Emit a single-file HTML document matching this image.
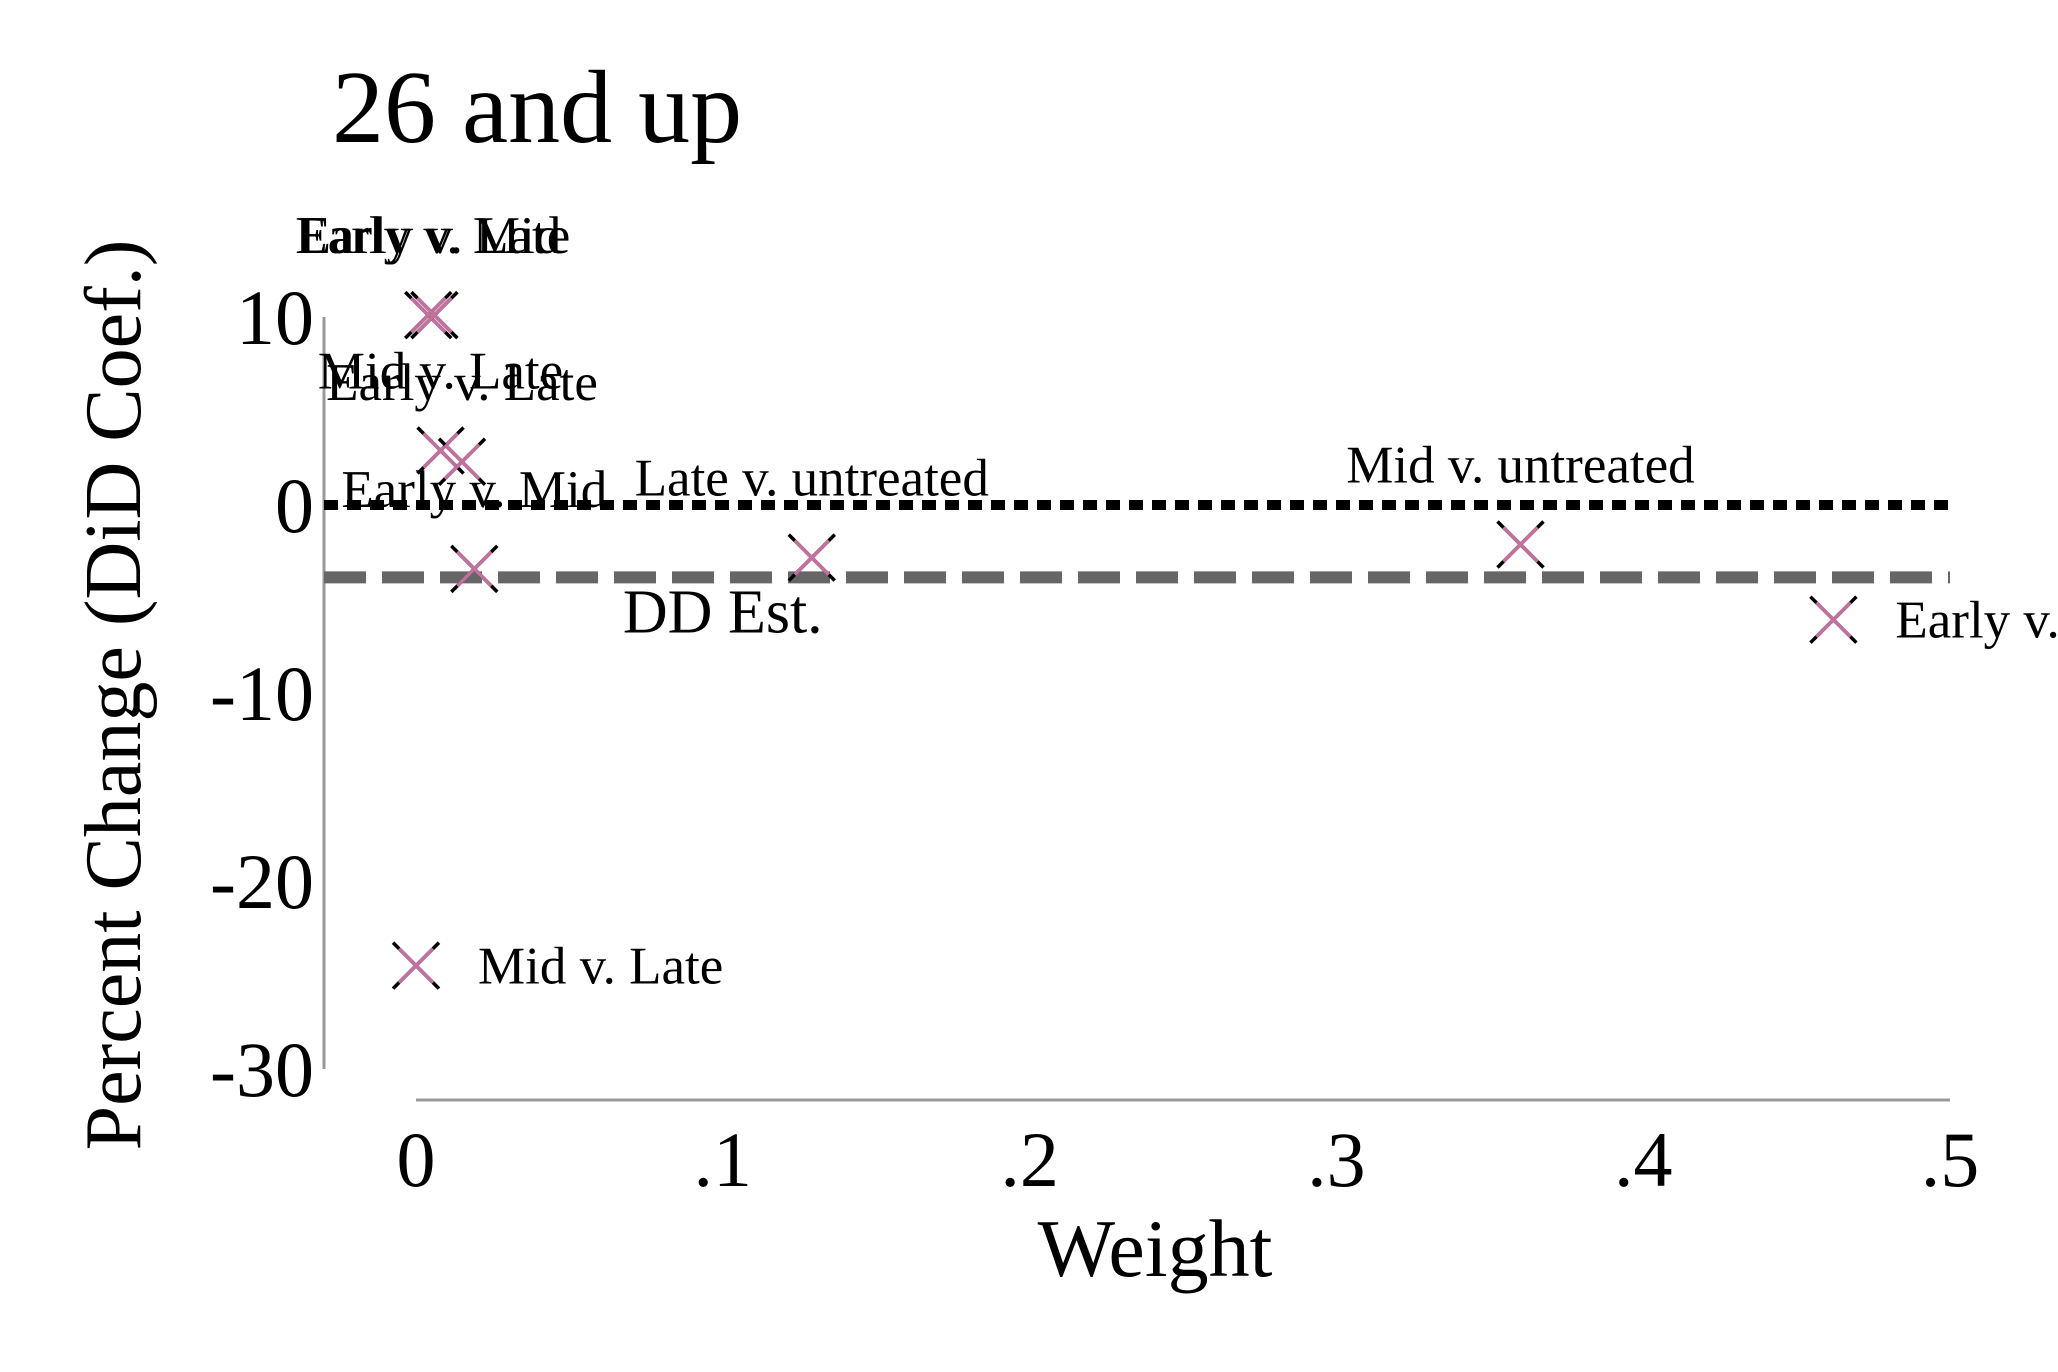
<!DOCTYPE html>
<html><head><meta charset="utf-8">
<style>
html,body{margin:0;padding:0;background:#fff;}
svg{display:block;font-family:"Liberation Serif","DejaVu Serif",serif;}
</style></head>
<body>
<svg id="chart" width="2058" height="1372" viewBox="0 0 2058 1372" xmlns="http://www.w3.org/2000/svg">
<rect width="2058" height="1372" fill="#fff"/>
<text x="332" y="142" font-size="104" fill="#000">26 and up</text>
<g id="axes"></g>
<g id="lines"></g>
<g id="marks"></g>
<text x="1155" y="1276" font-size="82" text-anchor="middle">Weight</text>
<text transform="translate(140,695) rotate(-90)" font-size="80" text-anchor="middle">Percent Change (DiD Coef.)</text>
</svg>
<script>
const labels = ["Early v. Mid","Early v. Late","Mid v. Late","Early v. Late","Early v. Mid","Late v. untreated","Mid v. untreated","Early v. untreated","Mid v. Late"];
const weights = [0.004,0.006,0.008,0.015,0.019,0.129,0.360,0.462,0.000];
const coefs = [10.1,10.1,2.9,2.3,-3.4,-2.8,-2.1,-6.1,-24.5];
const labelPos = ["above","above","above","above","above","above","above","right","right"];
const xTicks = [0,0.1,0.2,0.3,0.4,0.5];
const xTickLabels = ["0",".1",".2",".3",".4",".5"];
const yTicks = [10,0,-10,-20,-30];
const yTickLabels = ["10","0","-10","-20","-30"];
const zeroLine = 0;
const ddEst = -3.85;

const NS="http://www.w3.org/2000/svg";
function X(v){return 416 + v*3068;}
function Y(v){return 505 - v*18.8;}
function mk(tag,attrs,parent){const e=document.createElementNS(NS,tag);for(const k in attrs)e.setAttribute(k,attrs[k]);parent.appendChild(e);return e;}
const axes=document.getElementById('axes'),lines=document.getElementById('lines'),marks=document.getElementById('marks');

let yl=mk('line',{x1:324,x2:324,y1:Y(10),y2:Y(-30),stroke:'#999','stroke-width':3},axes);


let xl=mk('line',{x1:X(0),x2:X(0.5),y1:1100,y2:1100,stroke:'#999','stroke-width':3},axes);


yTicks.forEach((t,i)=>{
  const e=mk('text',{x:314,y:Y(t)+27,'font-size':78,'text-anchor':'end'},axes);
  e.textContent=yTickLabels[i];
  
  
});
xTicks.forEach((t,i)=>{
  const e=mk('text',{x:X(t),y:1186,'font-size':78,'text-anchor':'middle'},axes);
  e.textContent=xTickLabels[i];
  
  
});
let zl=mk('line',{x1:324,x2:X(0.5),y1:Y(zeroLine),y2:Y(zeroLine),stroke:'#000','stroke-width':10,'stroke-dasharray':'14 9'},lines);


let dl=mk('line',{x1:324,x2:X(0.5),y1:Y(ddEst),y2:Y(ddEst),stroke:'#666','stroke-width':12,'stroke-dasharray':'42 16'},lines);


let dt=mk('text',{x:X(0.1),y:Y(ddEst)+55,'font-size':62,'text-anchor':'middle'},lines);
dt.textContent='DD Est.';



weights.forEach((w,i)=>{
  const cx=X(w),cy=Y(coefs[i]),r=23,r2=17;
  const g=mk('g',{},marks);
  
  
  mk('line',{x1:cx-r,y1:cy-r,x2:cx+r,y2:cy+r,stroke:'#000','stroke-width':3.5},g);
  mk('line',{x1:cx-r,y1:cy+r,x2:cx+r,y2:cy-r,stroke:'#000','stroke-width':3.5},g);
  mk('line',{x1:cx-r2,y1:cy-r2,x2:cx+r2,y2:cy+r2,stroke:'#c2719f','stroke-width':3.5},g);
  mk('line',{x1:cx-r2,y1:cy+r2,x2:cx+r2,y2:cy-r2,stroke:'#c2719f','stroke-width':3.5},g);
  let t;
  if(labelPos[i]==='above'){
    t=mk('text',{x:cx,y:cy-62,'font-size':53,'text-anchor':'middle'},marks);
  } else {
    t=mk('text',{x:cx+62,y:cy+18,'font-size':53,'text-anchor':'start'},marks);
  }
  t.textContent=labels[i];
  
  
});
</script>
</body></html>
